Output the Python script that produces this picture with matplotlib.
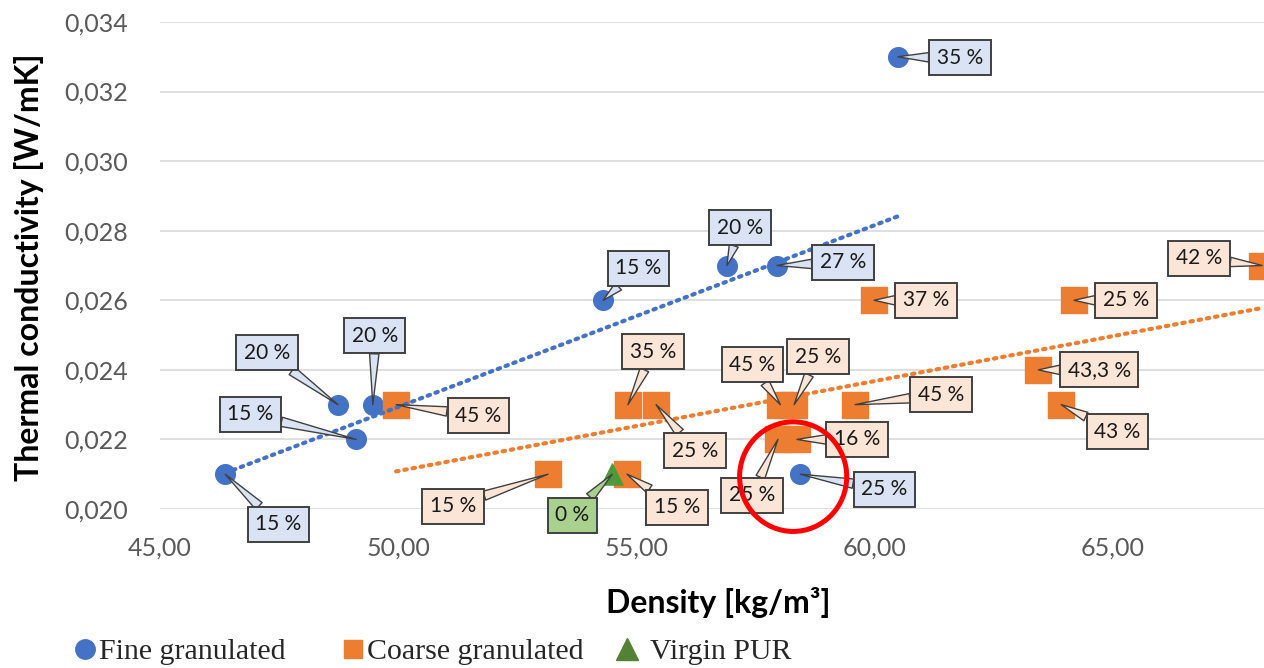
import numpy as np
import matplotlib.pyplot as plt
from matplotlib.ticker import FuncFormatter
from matplotlib.patches import Ellipse
from matplotlib.lines import Line2D

plt.rcParams['font.family'] = ['Lato', 'DejaVu Sans']

# data
fine_x = [46.37, 48.74, 49.12, 49.47, 54.31, 56.91, 57.96, 60.50, 58.45]
fine_y = [0.021, 0.023, 0.022, 0.023, 0.026, 0.027, 0.027, 0.033, 0.021]
fine_lab = ['15 %', '20 %', '15 %', '20 %', '15 %', '20 %', '27 %', '35 %', '25 %']

coarse_x = [49.96, 53.15, 54.81, 54.83, 55.42, 58.03, 58.32, 57.98, 58.38,
            59.60, 60.00, 64.20, 63.45, 63.93, 68.15]
coarse_y = [0.023, 0.021, 0.021, 0.023, 0.023, 0.023, 0.023, 0.022, 0.022,
            0.023, 0.026, 0.026, 0.024, 0.023, 0.027]
coarse_lab = ['45 %', '15 %', '15 %', '35 %', '25 %', '45 %', '25 %', '25 %', '16 %',
              '45 %', '37 %', '25 %', '43,3 %', '43 %', '42 %']

virgin_x = [54.50]
virgin_y = [0.021]
virgin_lab = ['0 %']

# label box offsets (pixels from the point)
fine_off = [(53, -50), (-71, 52), (-106, 25), (2, 69), (35, 32), (13, 38), (66, 3), (62, -1), (84, -15)]
coarse_off = [(82, -11), (-95, -32), (50, -33), (25, 53), (39, -46), (-28, 40), (24, 48), (-26, -56),
              (60, 0), (86, 10), (52, 0), (52, 0), (61, 0), (56, -27), (-63, 7)]
virgin_off = [(-40, -41)]

blue = '#4472C4'
orange = '#ED7D31'
green = '#4E9A3A'

fig = plt.figure(figsize=(12.64, 6.68), dpi=100)
ax = fig.add_axes([160 / 1264, 1 - 509 / 668, 1 - 160 / 1264, (509 - 22) / 668])

ax.scatter(fine_x, fine_y, s=200, marker='o', color=blue, zorder=2, label='Fine granulated')
ax.scatter(coarse_x, coarse_y, s=330, marker='s', color=orange, zorder=2, label='Coarse granulated')
ax.scatter(virgin_x, virgin_y, s=230, marker='^', color=green, zorder=2, label='Virgin PUR')

# linear trendlines
for xs, ys, c in [(fine_x, fine_y, blue), (coarse_x, coarse_y, orange)]:
    k, b = np.polyfit(xs, ys, 1)
    xx = np.array([min(xs), max(xs)])
    ax.plot(xx, k * xx + b, color=c, lw=3, linestyle=(0, (0.6, 1.4)),
            dash_capstyle='round', zorder=3)


def callouts(xs, ys, labs, offs, fc):
    for x, y, t, o in zip(xs, ys, labs, offs):
        ax.annotate(t, (x, y), xytext=o, textcoords='offset pixels',
                    ha='center', va='center', fontsize=15, color='#1a1a1a',
                    bbox=dict(boxstyle='square,pad=0.36', fc=fc, ec='#404040', lw=1.4),
                    arrowprops=dict(arrowstyle='wedge,tail_width=0.45', fc=fc, ec='#404040',
                                    lw=1.0, shrinkA=0, shrinkB=0),
                    zorder=6, annotation_clip=False)


callouts(fine_x, fine_y, fine_lab, fine_off, '#DAE3F3')
callouts(coarse_x, coarse_y, coarse_lab, coarse_off, '#FBE5D6')
callouts(virgin_x, virgin_y, virgin_lab, virgin_off, '#A9D18E')

ax.add_patch(Ellipse((58.30, 0.02093), 2.25, 0.00315, fill=False, ec='#FF0000', lw=3.6,
                     zorder=7, clip_on=False))

ax.set_xlim(45, 68.19)
ax.set_ylim(0.020, 0.034)
ax.set_xticks([45, 50, 55, 60, 65])
ax.set_yticks(np.arange(0.020, 0.0341, 0.002))
ax.xaxis.set_major_formatter(FuncFormatter(lambda v, p: f'{v:.2f}'.replace('.', ',')))
ax.yaxis.set_major_formatter(FuncFormatter(lambda v, p: f'{v:.3f}'.replace('.', ',')))
ax.tick_params(axis='both', length=0, labelsize=18, labelcolor='#595959')
ax.tick_params(axis='y', pad=23)
ax.tick_params(axis='x', pad=20)
ax.grid(axis='y', color='#D9D9D9', lw=1.2)
ax.set_axisbelow(True)
for s in ax.spines.values():
    s.set_visible(False)

ax.set_xlabel('Density [kg/m³]', fontsize=23, fontweight='bold', va='center')
ax.set_ylabel('Thermal conductivity [W/mK]', fontsize=23, fontweight='bold', va='center')
ax.xaxis.set_label_coords((718 - 160) / 1104, -(603 - 509) / 487)
ax.yaxis.set_label_coords((29 - 160) / 1104, (509 - 267) / 487)

# legend, three evenly spaced entries like the source
handles = [Line2D([], [], ls='', marker='o', ms=14, color=blue),
           Line2D([], [], ls='', marker='s', ms=13, color=orange),
           Line2D([], [], ls='', marker='^', ms=16, color='#548235')]
names = ['Fine granulated', 'Coarse granulated', 'Virgin PUR']
for h, n, px, gap in zip(handles, names, [74, 342, 616], [0.1, 0.1, 0.4]):
    fig.legend([h], [n], loc='center left', bbox_to_anchor=(px / 1264, (668 - 652) / 668),
               frameon=False, borderpad=0, borderaxespad=0, handlelength=0.75,
               handletextpad=gap, prop={'family': 'Liberation Serif', 'size': 21.5},
               labelcolor='#262626')

fig.savefig('out.png', dpi=100)
